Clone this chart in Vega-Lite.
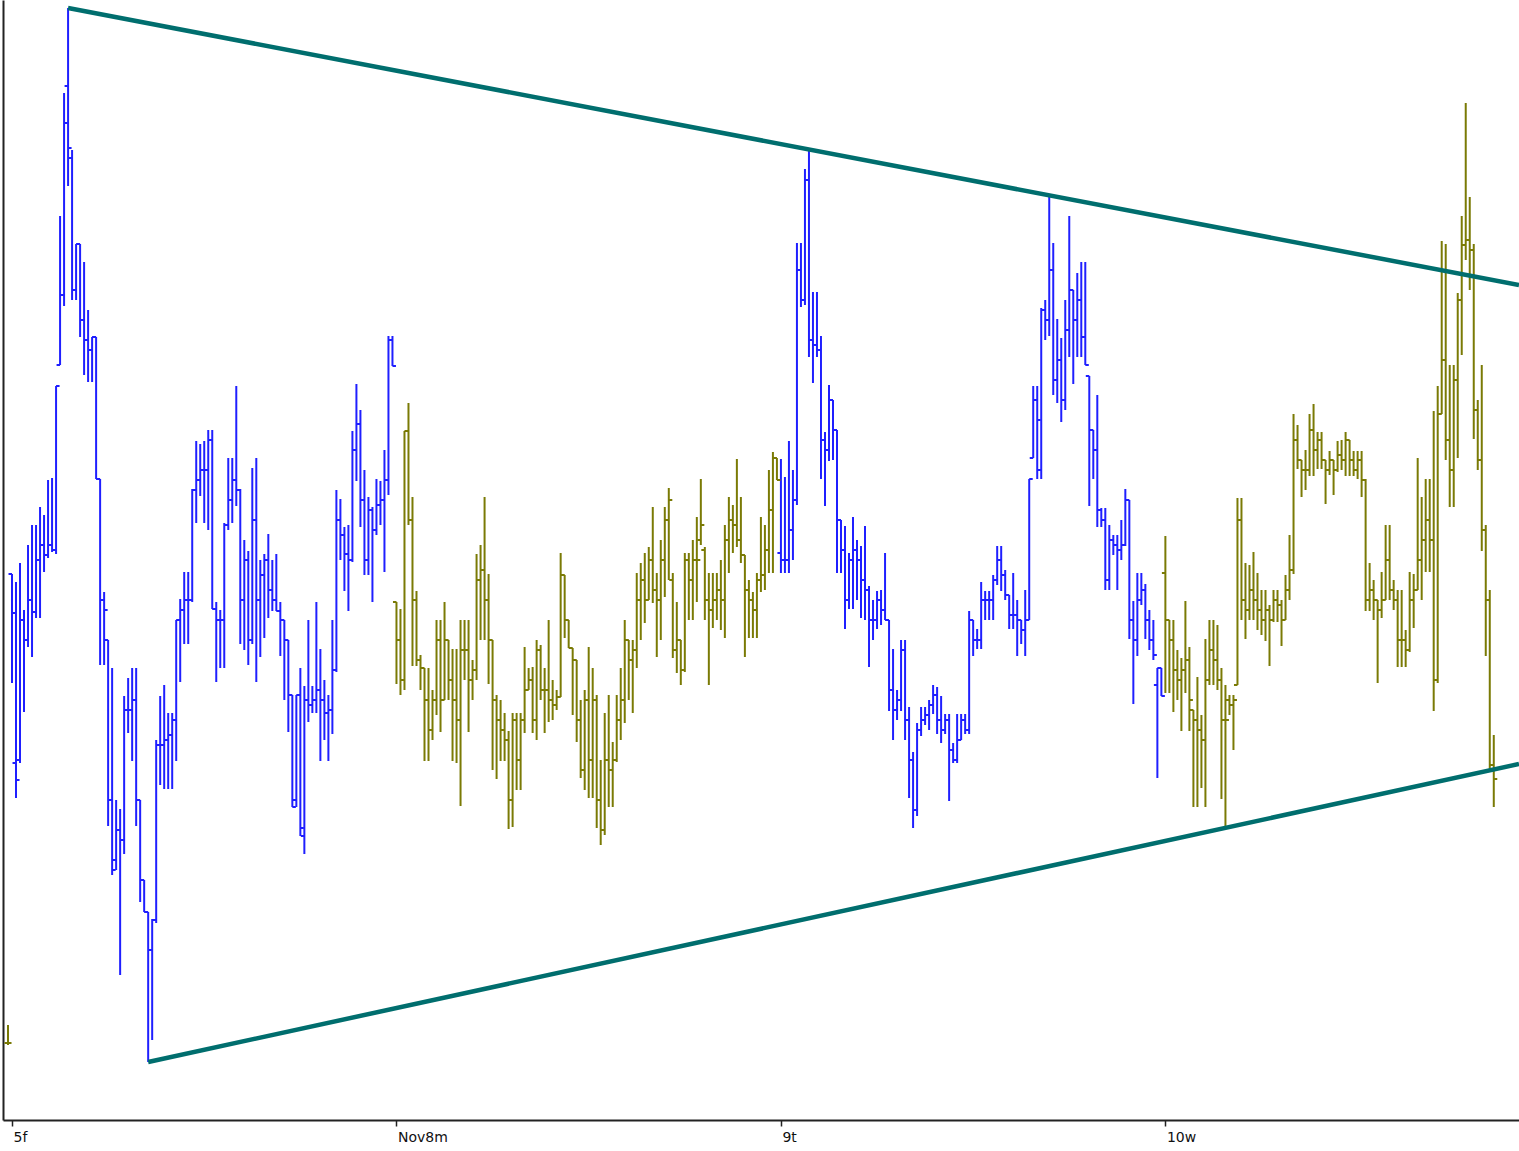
{
"$schema":"https://vega.github.io/schema/vega-lite/v6.json",
"width":1516,"height":1120,
"autosize":{"type":"none"},
"padding":{"left":3,"top":0,"right":0,"bottom":31},
"background":"#ffffff",
"config":{"view":{"stroke":null}},
"datasets":{
"bars":[
{"t":-1,"o":77,"h":95,"l":75,"c":77,"d":4},
{"t":0,"o":546,"h":546,"l":437,"c":507,"d":5},
{"t":1,"o":357,"h":538,"l":322,"c":340,"d":5},
{"t":2,"o":360,"h":557,"l":357,"c":500,"d":5},
{"t":3,"o":500,"h":510,"l":408,"c":480,"d":5},
{"t":4,"o":480,"h":575,"l":473,"c":520,"d":5},
{"t":5,"o":520,"h":595,"l":463,"c":508,"d":5},
{"t":6,"o":508,"h":595,"l":502,"c":560,"d":5},
{"t":7,"o":560,"h":613,"l":502,"c":575,"d":5},
{"t":8,"o":575,"h":605,"l":548,"c":565,"d":5},
{"t":9,"o":565,"h":640,"l":562,"c":575,"d":5},
{"t":10,"o":575,"h":642,"l":568,"c":570,"d":5},
{"t":11,"o":570,"h":734,"l":566,"c":734,"d":5},
{"t":12,"o":755,"h":904,"l":755,"c":825,"d":5},
{"t":13,"o":825,"h":1027,"l":814,"c":997,"d":5},
{"t":14,"o":1034,"h":1112,"l":934,"c":972,"d":5},
{"t":15,"o":962,"h":970,"l":820,"c":830,"d":5},
{"t":16,"o":830,"h":876,"l":820,"c":876,"d":5},
{"t":17,"o":876,"h":876,"l":783,"c":800,"d":5},
{"t":18,"o":800,"h":858,"l":745,"c":780,"d":5},
{"t":19,"o":780,"h":810,"l":738,"c":770,"d":5},
{"t":20,"o":770,"h":783,"l":738,"c":783,"d":5},
{"t":21,"o":783,"h":783,"l":641,"c":641,"d":5},
{"t":22,"o":641,"h":641,"l":455,"c":520,"d":5},
{"t":23,"o":520,"h":528,"l":455,"c":510,"d":5},
{"t":24,"o":480,"h":480,"l":294,"c":320,"d":5},
{"t":25,"o":320,"h":452,"l":245,"c":250,"d":5},
{"t":26,"o":260,"h":320,"l":250,"c":290,"d":5},
{"t":27,"o":290,"h":311,"l":145,"c":280,"d":5},
{"t":28,"o":280,"h":424,"l":266,"c":410,"d":5},
{"t":29,"o":410,"h":442,"l":387,"c":410,"d":5},
{"t":30,"o":410,"h":452,"l":359,"c":420,"d":5},
{"t":31,"o":420,"h":452,"l":294,"c":320,"d":5},
{"t":32,"o":320,"h":320,"l":218,"c":240,"d":5},
{"t":33,"o":240,"h":240,"l":208,"c":208,"d":5},
{"t":34,"o":208,"h":208,"l":58,"c":170,"d":5},
{"t":35,"o":170,"h":201,"l":80,"c":200,"d":5},
{"t":36,"o":200,"h":380,"l":197,"c":375,"d":5},
{"t":37,"o":375,"h":424,"l":335,"c":375,"d":5},
{"t":38,"o":375,"h":435,"l":331,"c":380,"d":5},
{"t":39,"o":380,"h":407,"l":331,"c":385,"d":5},
{"t":40,"o":385,"h":407,"l":331,"c":400,"d":5},
{"t":41,"o":400,"h":500,"l":359,"c":500,"d":5},
{"t":42,"o":500,"h":521,"l":438,"c":510,"d":5},
{"t":43,"o":510,"h":548,"l":476,"c":520,"d":5},
{"t":44,"o":520,"h":548,"l":476,"c":520,"d":5},
{"t":45,"o":520,"h":631,"l":518,"c":630,"d":5},
{"t":46,"o":630,"h":679,"l":597,"c":640,"d":5},
{"t":47,"o":640,"h":676,"l":624,"c":650,"d":5},
{"t":48,"o":650,"h":679,"l":597,"c":650,"d":5},
{"t":49,"o":650,"h":690,"l":590,"c":680,"d":5},
{"t":50,"o":680,"h":690,"l":511,"c":511,"d":5},
{"t":51,"o":511,"h":518,"l":438,"c":500,"d":5},
{"t":52,"o":500,"h":510,"l":452,"c":500,"d":5},
{"t":53,"o":500,"h":597,"l":452,"c":595,"d":5},
{"t":54,"o":595,"h":662,"l":590,"c":620,"d":5},
{"t":55,"o":620,"h":662,"l":597,"c":640,"d":5},
{"t":56,"o":640,"h":734,"l":614,"c":630,"d":5},
{"t":57,"o":630,"h":631,"l":476,"c":520,"d":5},
{"t":58,"o":520,"h":580,"l":470,"c":560,"d":5},
{"t":59,"o":560,"h":569,"l":455,"c":480,"d":5},
{"t":60,"o":480,"h":652,"l":476,"c":600,"d":5},
{"t":61,"o":600,"h":662,"l":438,"c":520,"d":5},
{"t":62,"o":520,"h":560,"l":463,"c":545,"d":5},
{"t":63,"o":545,"h":566,"l":482,"c":560,"d":5},
{"t":64,"o":560,"h":586,"l":502,"c":530,"d":5},
{"t":65,"o":530,"h":560,"l":509,"c":520,"d":5},
{"t":66,"o":520,"h":566,"l":509,"c":509,"d":5},
{"t":67,"o":509,"h":518,"l":464,"c":500,"d":5},
{"t":68,"o":500,"h":500,"l":420,"c":480,"d":5},
{"t":69,"o":480,"h":480,"l":388,"c":425,"d":5},
{"t":70,"o":425,"h":425,"l":313,"c":313,"d":5},
{"t":71,"o":320,"h":425,"l":313,"c":425,"d":5},
{"t":72,"o":425,"h":452,"l":284,"c":292,"d":5},
{"t":73,"o":284,"h":434,"l":266,"c":420,"d":5},
{"t":74,"o":420,"h":500,"l":398,"c":415,"d":5},
{"t":75,"o":415,"h":434,"l":407,"c":420,"d":5},
{"t":76,"o":420,"h":518,"l":407,"c":430,"d":5},
{"t":77,"o":430,"h":471,"l":359,"c":420,"d":5},
{"t":78,"o":420,"h":440,"l":380,"c":407,"d":5},
{"t":79,"o":407,"h":425,"l":359,"c":410,"d":5},
{"t":80,"o":410,"h":500,"l":386,"c":450,"d":5},
{"t":81,"o":450,"h":630,"l":448,"c":600,"d":5},
{"t":82,"o":600,"h":621,"l":560,"c":585,"d":5},
{"t":83,"o":585,"h":593,"l":529,"c":566,"d":5},
{"t":84,"o":566,"h":595,"l":509,"c":560,"d":5},
{"t":85,"o":560,"h":689,"l":558,"c":670,"d":5},
{"t":86,"o":670,"h":736,"l":639,"c":696,"d":5},
{"t":87,"o":696,"h":710,"l":593,"c":620,"d":5},
{"t":88,"o":620,"h":650,"l":545,"c":560,"d":5},
{"t":89,"o":560,"h":623,"l":545,"c":610,"d":5},
{"t":90,"o":610,"h":613,"l":518,"c":590,"d":5},
{"t":91,"o":590,"h":641,"l":585,"c":615,"d":5},
{"t":92,"o":615,"h":639,"l":595,"c":620,"d":5},
{"t":93,"o":620,"h":670,"l":548,"c":640,"d":5},
{"t":94,"o":640,"h":784,"l":625,"c":780,"d":5},
{"t":95,"o":780,"h":784,"l":754,"c":754,"d":5},
{"t":96,"o":518,"h":518,"l":436,"c":480,"d":8},
{"t":97,"o":480,"h":511,"l":425,"c":440,"d":8},
{"t":98,"o":440,"h":689,"l":430,"c":689,"d":8},
{"t":99,"o":689,"h":717,"l":595,"c":600,"d":8},
{"t":100,"o":600,"h":623,"l":454,"c":520,"d":8},
{"t":101,"o":520,"h":529,"l":454,"c":460,"d":8},
{"t":102,"o":460,"h":465,"l":430,"c":452,"d":8},
{"t":103,"o":452,"h":452,"l":359,"c":420,"d":8},
{"t":104,"o":420,"h":452,"l":359,"c":390,"d":8},
{"t":105,"o":390,"h":430,"l":380,"c":420,"d":8},
{"t":106,"o":420,"h":500,"l":405,"c":480,"d":8},
{"t":107,"o":480,"h":500,"l":388,"c":420,"d":8},
{"t":108,"o":420,"h":518,"l":420,"c":480,"d":8},
{"t":109,"o":480,"h":480,"l":420,"c":440,"d":8},
{"t":110,"o":440,"h":471,"l":359,"c":420,"d":8},
{"t":111,"o":420,"h":471,"l":357,"c":400,"d":8},
{"t":112,"o":400,"h":500,"l":314,"c":470,"d":8},
{"t":113,"o":470,"h":500,"l":440,"c":470,"d":8},
{"t":114,"o":470,"h":500,"l":388,"c":440,"d":8},
{"t":115,"o":440,"h":460,"l":420,"c":450,"d":8},
{"t":116,"o":450,"h":566,"l":440,"c":540,"d":8},
{"t":117,"o":540,"h":575,"l":480,"c":550,"d":8},
{"t":118,"o":550,"h":623,"l":480,"c":520,"d":8},
{"t":119,"o":520,"h":546,"l":436,"c":480,"d":8},
{"t":120,"o":480,"h":480,"l":350,"c":420,"d":8},
{"t":121,"o":420,"h":425,"l":341,"c":400,"d":8},
{"t":122,"o":400,"h":420,"l":359,"c":390,"d":8},
{"t":123,"o":390,"h":407,"l":359,"c":380,"d":8},
{"t":124,"o":380,"h":389,"l":291,"c":320,"d":8},
{"t":125,"o":320,"h":407,"l":293,"c":400,"d":8},
{"t":126,"o":400,"h":407,"l":330,"c":360,"d":8},
{"t":127,"o":360,"h":407,"l":330,"c":400,"d":8},
{"t":128,"o":400,"h":473,"l":387,"c":430,"d":8},
{"t":129,"o":430,"h":452,"l":430,"c":440,"d":8},
{"t":130,"o":440,"h":453,"l":387,"c":400,"d":8},
{"t":131,"o":400,"h":480,"l":380,"c":470,"d":8},
{"t":132,"o":470,"h":475,"l":420,"c":430,"d":8},
{"t":133,"o":430,"h":452,"l":387,"c":430,"d":8},
{"t":134,"o":430,"h":500,"l":398,"c":420,"d":8},
{"t":135,"o":420,"h":440,"l":400,"c":415,"d":8},
{"t":136,"o":415,"h":430,"l":410,"c":423,"d":8},
{"t":137,"o":423,"h":567,"l":423,"c":545,"d":8},
{"t":138,"o":545,"h":545,"l":482,"c":500,"d":8},
{"t":139,"o":500,"h":500,"l":472,"c":472,"d":8},
{"t":140,"o":472,"h":472,"l":405,"c":460,"d":8},
{"t":141,"o":460,"h":460,"l":378,"c":400,"d":8},
{"t":142,"o":400,"h":420,"l":342,"c":350,"d":8},
{"t":143,"o":350,"h":430,"l":330,"c":420,"d":8},
{"t":144,"o":420,"h":473,"l":322,"c":360,"d":8},
{"t":145,"o":360,"h":452,"l":322,"c":420,"d":8},
{"t":146,"o":420,"h":425,"l":292,"c":320,"d":8},
{"t":147,"o":320,"h":360,"l":275,"c":290,"d":8},
{"t":148,"o":290,"h":407,"l":285,"c":360,"d":8},
{"t":149,"o":360,"h":425,"l":313,"c":350,"d":8},
{"t":150,"o":350,"h":378,"l":313,"c":360,"d":8},
{"t":151,"o":360,"h":425,"l":358,"c":400,"d":8},
{"t":152,"o":400,"h":452,"l":380,"c":420,"d":8},
{"t":153,"o":420,"h":500,"l":397,"c":480,"d":8},
{"t":154,"o":480,"h":480,"l":420,"c":460,"d":8},
{"t":155,"o":460,"h":480,"l":407,"c":470,"d":8},
{"t":156,"o":470,"h":547,"l":452,"c":520,"d":8},
{"t":157,"o":520,"h":557,"l":480,"c":540,"d":8},
{"t":158,"o":540,"h":567,"l":497,"c":520,"d":8},
{"t":159,"o":520,"h":573,"l":520,"c":560,"d":8},
{"t":160,"o":560,"h":613,"l":517,"c":530,"d":8},
{"t":161,"o":530,"h":547,"l":463,"c":520,"d":8},
{"t":162,"o":520,"h":580,"l":480,"c":560,"d":8},
{"t":163,"o":560,"h":613,"l":523,"c":600,"d":8},
{"t":164,"o":600,"h":632,"l":540,"c":620,"d":8},
{"t":165,"o":540,"h":547,"l":462,"c":470,"d":8},
{"t":166,"o":470,"h":518,"l":447,"c":480,"d":8},
{"t":167,"o":480,"h":480,"l":435,"c":450,"d":8},
{"t":168,"o":450,"h":567,"l":448,"c":560,"d":8},
{"t":169,"o":560,"h":567,"l":500,"c":540,"d":8},
{"t":170,"o":540,"h":580,"l":500,"c":560,"d":8},
{"t":171,"o":560,"h":603,"l":518,"c":560,"d":8},
{"t":172,"o":580,"h":641,"l":575,"c":595,"d":8},
{"t":173,"o":570,"h":573,"l":500,"c":520,"d":8},
{"t":174,"o":520,"h":547,"l":435,"c":510,"d":8},
{"t":175,"o":510,"h":547,"l":492,"c":520,"d":8},
{"t":176,"o":520,"h":547,"l":500,"c":530,"d":8},
{"t":177,"o":530,"h":560,"l":490,"c":520,"d":8},
{"t":178,"o":520,"h":595,"l":482,"c":580,"d":8},
{"t":179,"o":580,"h":623,"l":547,"c":600,"d":8},
{"t":180,"o":600,"h":615,"l":567,"c":595,"d":8},
{"t":181,"o":595,"h":661,"l":573,"c":580,"d":8},
{"t":182,"o":580,"h":623,"l":557,"c":565,"d":8},
{"t":183,"o":565,"h":565,"l":463,"c":530,"d":8},
{"t":184,"o":530,"h":540,"l":482,"c":520,"d":8},
{"t":185,"o":520,"h":528,"l":482,"c":510,"d":8},
{"t":186,"o":510,"h":547,"l":482,"c":540,"d":8},
{"t":187,"o":540,"h":603,"l":528,"c":545,"d":8},
{"t":188,"o":545,"h":595,"l":530,"c":570,"d":8},
{"t":189,"o":570,"h":650,"l":547,"c":610,"d":8},
{"t":190,"o":610,"h":668,"l":547,"c":662,"d":8},
{"t":191,"o":662,"h":662,"l":640,"c":640,"d":8},
{"t":192,"o":567,"h":661,"l":547,"c":560,"d":9},
{"t":193,"o":560,"h":643,"l":547,"c":560,"d":9},
{"t":194,"o":560,"h":679,"l":547,"c":590,"d":9},
{"t":195,"o":590,"h":650,"l":560,"c":620,"d":9},
{"t":196,"o":620,"h":877,"l":615,"c":850,"d":9},
{"t":197,"o":850,"h":877,"l":813,"c":820,"d":9},
{"t":198,"o":820,"h":951,"l":815,"c":940,"d":9},
{"t":199,"o":940,"h":971,"l":763,"c":780,"d":9},
{"t":200,"o":780,"h":828,"l":737,"c":775,"d":9},
{"t":201,"o":775,"h":828,"l":763,"c":770,"d":9},
{"t":202,"o":770,"h":784,"l":641,"c":680,"d":9},
{"t":203,"o":680,"h":688,"l":614,"c":670,"d":9},
{"t":204,"o":670,"h":735,"l":659,"c":720,"d":9},
{"t":205,"o":720,"h":720,"l":660,"c":690,"d":9},
{"t":206,"o":690,"h":690,"l":547,"c":600,"d":9},
{"t":207,"o":600,"h":600,"l":547,"c":570,"d":9},
{"t":208,"o":570,"h":594,"l":491,"c":520,"d":9},
{"t":209,"o":520,"h":567,"l":511,"c":560,"d":9},
{"t":210,"o":560,"h":603,"l":511,"c":570,"d":9},
{"t":211,"o":570,"h":580,"l":520,"c":560,"d":9},
{"t":212,"o":560,"h":574,"l":502,"c":540,"d":9},
{"t":213,"o":540,"h":594,"l":500,"c":530,"d":9},
{"t":214,"o":530,"h":534,"l":453,"c":500,"d":9},
{"t":215,"o":500,"h":520,"l":480,"c":500,"d":9},
{"t":216,"o":500,"h":529,"l":491,"c":520,"d":9},
{"t":217,"o":520,"h":530,"l":495,"c":510,"d":9},
{"t":218,"o":510,"h":567,"l":500,"c":500,"d":9},
{"t":219,"o":500,"h":500,"l":409,"c":430,"d":9},
{"t":220,"o":430,"h":471,"l":380,"c":410,"d":9},
{"t":221,"o":410,"h":430,"l":400,"c":420,"d":9},
{"t":222,"o":420,"h":480,"l":409,"c":470,"d":9},
{"t":223,"o":470,"h":480,"l":380,"c":400,"d":9},
{"t":224,"o":400,"h":413,"l":322,"c":360,"d":9},
{"t":225,"o":360,"h":368,"l":292,"c":310,"d":9},
{"t":226,"o":310,"h":397,"l":304,"c":390,"d":9},
{"t":227,"o":390,"h":413,"l":384,"c":400,"d":9},
{"t":228,"o":400,"h":413,"l":395,"c":405,"d":9},
{"t":229,"o":405,"h":420,"l":390,"c":415,"d":9},
{"t":230,"o":415,"h":435,"l":406,"c":425,"d":9},
{"t":231,"o":425,"h":433,"l":386,"c":400,"d":9},
{"t":232,"o":400,"h":424,"l":377,"c":390,"d":9},
{"t":233,"o":390,"h":406,"l":386,"c":400,"d":9},
{"t":234,"o":400,"h":406,"l":319,"c":370,"d":9},
{"t":235,"o":370,"h":377,"l":357,"c":360,"d":9},
{"t":236,"o":360,"h":406,"l":357,"c":380,"d":9},
{"t":237,"o":380,"h":406,"l":380,"c":400,"d":9},
{"t":238,"o":400,"h":406,"l":386,"c":390,"d":9},
{"t":239,"o":390,"h":509,"l":386,"c":500,"d":9},
{"t":240,"o":500,"h":500,"l":464,"c":480,"d":9},
{"t":241,"o":480,"h":491,"l":471,"c":480,"d":9},
{"t":242,"o":480,"h":538,"l":471,"c":520,"d":9},
{"t":243,"o":520,"h":529,"l":500,"c":520,"d":9},
{"t":244,"o":520,"h":529,"l":500,"c":520,"d":9},
{"t":245,"o":520,"h":545,"l":500,"c":540,"d":9},
{"t":246,"o":540,"h":574,"l":535,"c":560,"d":9},
{"t":247,"o":560,"h":574,"l":529,"c":545,"d":9},
{"t":248,"o":545,"h":550,"l":520,"c":525,"d":9},
{"t":249,"o":525,"h":525,"l":491,"c":505,"d":9},
{"t":250,"o":505,"h":547,"l":491,"c":505,"d":9},
{"t":251,"o":505,"h":520,"l":464,"c":500,"d":9},
{"t":252,"o":500,"h":500,"l":476,"c":490,"d":9},
{"t":253,"o":490,"h":530,"l":464,"c":500,"d":9},
{"t":254,"o":500,"h":641,"l":500,"c":641,"d":9},
{"t":255,"o":662,"h":734,"l":662,"c":720,"d":9},
{"t":256,"o":720,"h":734,"l":641,"c":700,"d":9},
{"t":257,"o":650,"h":812,"l":641,"c":810,"d":9},
{"t":258,"o":810,"h":820,"l":780,"c":800,"d":9},
{"t":259,"o":800,"h":925,"l":784,"c":850,"d":9},
{"t":260,"o":850,"h":877,"l":725,"c":740,"d":9},
{"t":261,"o":740,"h":801,"l":717,"c":760,"d":9},
{"t":262,"o":760,"h":782,"l":698,"c":720,"d":9},
{"t":263,"o":720,"h":820,"l":710,"c":790,"d":9},
{"t":264,"o":790,"h":904,"l":763,"c":830,"d":9},
{"t":265,"o":830,"h":830,"l":736,"c":800,"d":9},
{"t":266,"o":800,"h":847,"l":763,"c":820,"d":9},
{"t":267,"o":820,"h":858,"l":763,"c":783,"d":9},
{"t":268,"o":783,"h":858,"l":755,"c":755,"d":9},
{"t":269,"o":744,"h":744,"l":614,"c":690,"d":9},
{"t":270,"o":690,"h":690,"l":641,"c":670,"d":9},
{"t":271,"o":670,"h":725,"l":593,"c":610,"d":9},
{"t":272,"o":610,"h":612,"l":593,"c":600,"d":9},
{"t":273,"o":600,"h":612,"l":530,"c":540,"d":9},
{"t":274,"o":540,"h":595,"l":530,"c":580,"d":9},
{"t":275,"o":580,"h":585,"l":565,"c":575,"d":9},
{"t":276,"o":575,"h":585,"l":530,"c":570,"d":9},
{"t":277,"o":570,"h":600,"l":560,"c":575,"d":9},
{"t":278,"o":575,"h":631,"l":574,"c":620,"d":9},
{"t":279,"o":620,"h":620,"l":481,"c":500,"d":9},
{"t":280,"o":500,"h":519,"l":416,"c":480,"d":9},
{"t":281,"o":480,"h":547,"l":464,"c":520,"d":9},
{"t":282,"o":520,"h":547,"l":515,"c":530,"d":9},
{"t":283,"o":530,"h":536,"l":481,"c":500,"d":9},
{"t":284,"o":500,"h":510,"l":470,"c":480,"d":9},
{"t":285,"o":480,"h":500,"l":460,"c":465,"d":9},
{"t":286,"o":435,"h":452,"l":342,"c":452,"d":9},
{"t":287,"o":452,"h":452,"l":424,"c":424,"d":9},
{"t":288,"o":547,"h":584,"l":427,"c":500,"d":10},
{"t":289,"o":500,"h":500,"l":427,"c":480,"d":10},
{"t":290,"o":480,"h":500,"l":408,"c":450,"d":10},
{"t":291,"o":450,"h":470,"l":420,"c":440,"d":10},
{"t":292,"o":440,"h":462,"l":389,"c":450,"d":10},
{"t":293,"o":450,"h":519,"l":427,"c":460,"d":10},
{"t":294,"o":460,"h":473,"l":389,"c":420,"d":10},
{"t":295,"o":410,"h":410,"l":313,"c":400,"d":10},
{"t":296,"o":400,"h":443,"l":313,"c":390,"d":10},
{"t":297,"o":390,"h":405,"l":332,"c":380,"d":10},
{"t":298,"o":380,"h":481,"l":313,"c":440,"d":10},
{"t":299,"o":440,"h":500,"l":435,"c":470,"d":10},
{"t":300,"o":470,"h":500,"l":435,"c":460,"d":10},
{"t":301,"o":460,"h":495,"l":430,"c":440,"d":10},
{"t":302,"o":440,"h":452,"l":321,"c":400,"d":10},
{"t":303,"o":400,"h":435,"l":292,"c":400,"d":10},
{"t":304,"o":420,"h":425,"l":405,"c":415,"d":10},
{"t":305,"o":415,"h":425,"l":370,"c":420,"d":10},
{"t":306,"o":435,"h":622,"l":435,"c":600,"d":10},
{"t":307,"o":600,"h":622,"l":500,"c":520,"d":10},
{"t":308,"o":520,"h":557,"l":481,"c":510,"d":10},
{"t":309,"o":510,"h":555,"l":500,"c":530,"d":10},
{"t":310,"o":530,"h":568,"l":500,"c":520,"d":10},
{"t":311,"o":520,"h":547,"l":490,"c":510,"d":10},
{"t":312,"o":510,"h":530,"l":485,"c":500,"d":10},
{"t":313,"o":500,"h":530,"l":479,"c":510,"d":10},
{"t":314,"o":510,"h":515,"l":454,"c":500,"d":10},
{"t":315,"o":500,"h":530,"l":498,"c":520,"d":10},
{"t":316,"o":520,"h":530,"l":498,"c":515,"d":10},
{"t":317,"o":515,"h":520,"l":474,"c":500,"d":10},
{"t":318,"o":500,"h":545,"l":500,"c":530,"d":10},
{"t":319,"o":530,"h":585,"l":520,"c":550,"d":10},
{"t":320,"o":550,"h":706,"l":546,"c":680,"d":10},
{"t":321,"o":680,"h":695,"l":651,"c":660,"d":10},
{"t":322,"o":660,"h":660,"l":623,"c":650,"d":10},
{"t":323,"o":650,"h":670,"l":630,"c":650,"d":10},
{"t":324,"o":650,"h":706,"l":644,"c":690,"d":10},
{"t":325,"o":690,"h":716,"l":644,"c":670,"d":10},
{"t":326,"o":670,"h":688,"l":651,"c":680,"d":10},
{"t":327,"o":680,"h":688,"l":651,"c":660,"d":10},
{"t":328,"o":660,"h":660,"l":616,"c":650,"d":10},
{"t":329,"o":650,"h":669,"l":645,"c":660,"d":10},
{"t":330,"o":660,"h":660,"l":625,"c":650,"d":10},
{"t":331,"o":650,"h":679,"l":648,"c":665,"d":10},
{"t":332,"o":665,"h":680,"l":650,"c":660,"d":10},
{"t":333,"o":660,"h":688,"l":644,"c":680,"d":10},
{"t":334,"o":680,"h":680,"l":644,"c":660,"d":10},
{"t":335,"o":660,"h":669,"l":644,"c":650,"d":10},
{"t":336,"o":650,"h":669,"l":641,"c":660,"d":10},
{"t":337,"o":660,"h":669,"l":623,"c":640,"d":10},
{"t":338,"o":640,"h":641,"l":509,"c":520,"d":10},
{"t":339,"o":520,"h":557,"l":509,"c":530,"d":10},
{"t":340,"o":530,"h":540,"l":500,"c":520,"d":10},
{"t":341,"o":520,"h":520,"l":437,"c":510,"d":10},
{"t":342,"o":510,"h":548,"l":502,"c":520,"d":10},
{"t":343,"o":520,"h":595,"l":520,"c":560,"d":10},
{"t":344,"o":560,"h":595,"l":520,"c":530,"d":10},
{"t":345,"o":530,"h":540,"l":510,"c":520,"d":10},
{"t":346,"o":520,"h":530,"l":453,"c":480,"d":10},
{"t":347,"o":480,"h":530,"l":453,"c":480,"d":10},
{"t":348,"o":480,"h":490,"l":453,"c":470,"d":10},
{"t":349,"o":470,"h":548,"l":468,"c":520,"d":10},
{"t":350,"o":520,"h":546,"l":492,"c":530,"d":10},
{"t":351,"o":530,"h":662,"l":530,"c":560,"d":10},
{"t":352,"o":560,"h":623,"l":520,"c":580,"d":10},
{"t":353,"o":580,"h":641,"l":548,"c":600,"d":10},
{"t":354,"o":600,"h":641,"l":548,"c":580,"d":10},
{"t":355,"o":580,"h":709,"l":409,"c":440,"d":10},
{"t":356,"o":440,"h":734,"l":437,"c":706,"d":10},
{"t":357,"o":706,"h":879,"l":706,"c":760,"d":10},
{"t":358,"o":760,"h":876,"l":660,"c":680,"d":10},
{"t":359,"o":680,"h":755,"l":613,"c":650,"d":10},
{"t":360,"o":650,"h":755,"l":613,"c":740,"d":10},
{"t":361,"o":740,"h":827,"l":662,"c":820,"d":10},
{"t":362,"o":820,"h":904,"l":765,"c":875,"d":10},
{"t":363,"o":875,"h":1017,"l":860,"c":880,"d":10},
{"t":364,"o":880,"h":923,"l":830,"c":870,"d":10},
{"t":365,"o":870,"h":876,"l":681,"c":710,"d":10},
{"t":366,"o":710,"h":720,"l":650,"c":660,"d":10},
{"t":367,"o":660,"h":755,"l":569,"c":590,"d":10},
{"t":368,"o":590,"h":595,"l":464,"c":520,"d":10},
{"t":369,"o":520,"h":530,"l":348,"c":355,"d":10},
{"t":370,"o":355,"h":385,"l":313,"c":341,"d":10}
],
"lines":[
{"k":"upper","t":14,"p":1112},
{"k":"upper","t":376.3,"p":835},
{"k":"lower","t":34,"p":58},
{"k":"lower","t":376.3,"p":356}
]
},
"layer":[
{
"data":{"name":"bars"},
"encoding":{
"x":{"field":"t","type":"quantitative","scale":{"domain":[-2.25,376.3],"nice":false,"zero":false},
"axis":{"values":[0,96,192,288],"labelExpr":"datum.value==0?'5f':datum.value==96?'Nov8m':datum.value==192?'9t':'10w'","title":null,"grid":false,"domainColor":"#222222","domainWidth":2,"tickColor":"#222222","tickSize":6,"tickWidth":1.5,"labelAlign":"left","labelBaseline":"top","labelPadding":4,"labelOffset":1,"labelFontSize":14,"labelColor":"#111111","labelFont":"DejaVu Sans","labelFlush":false,"labelOverlap":false}},
"color":{"field":"d","type":"nominal","scale":{"domain":[4,5,8,9,10],"range":["#7a7a05","#1f1fff","#7a7a05","#1f1fff","#7a7a05"]},"legend":null}
},
"layer":[
{"mark":{"type":"rule","strokeWidth":2},
"encoding":{"y":{"field":"l","type":"quantitative","scale":{"domain":[0,1120],"nice":false,"zero":false},"axis":{"title":null,"labels":false,"ticks":false,"grid":false,"domain":true,"domainColor":"#222222","domainWidth":2}},"y2":{"field":"h"}}},
{"mark":{"type":"rule","strokeWidth":2,"xOffset":-3.5,"x2Offset":0},
"encoding":{"x2":{"field":"t"},"y":{"field":"o","type":"quantitative"}}},
{"mark":{"type":"rule","strokeWidth":2,"xOffset":0,"x2Offset":3.5},
"encoding":{"x2":{"field":"t"},"y":{"field":"c","type":"quantitative"}}}
]
},
{
"data":{"name":"lines"},
"mark":{"type":"line","color":"#006e6e","strokeWidth":4.5,"clip":true},
"encoding":{"x":{"field":"t","type":"quantitative"},"y":{"field":"p","type":"quantitative"},"detail":{"field":"k"}}
}
]
}
